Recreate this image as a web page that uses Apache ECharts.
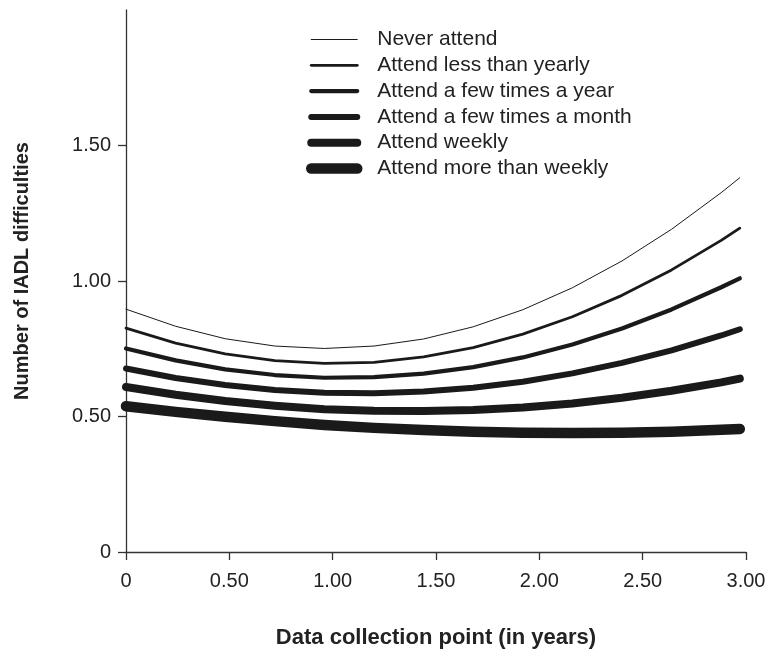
<!DOCTYPE html>
<html lang="en">
<head>
	<meta charset="UTF-8">
	<title>IADL difficulties by attendance</title>
	<style type="text/css">
		html, body { margin: 0; padding: 0; background: #fff; }
	</style>
</head>
<body>
     <div id="main" style="width:773px;height:665px;"></div>
</body>
</html>
<script type="text/javascript" src="https://cdn.jsdelivr.net/npm/echarts@6/dist/echarts.min.js"></script>
<script type="text/javascript">
    // data collection points (years)
    var years = [0, 0.24, 0.48, 0.72, 0.96, 1.2, 1.44, 1.68, 1.92, 2.16, 2.4, 2.64, 2.88, 2.97];
    var neverAttend = [0.896, 0.833, 0.787, 0.760, 0.751, 0.760, 0.786, 0.831, 0.894, 0.975, 1.074, 1.191, 1.326, 1.381];
    var lessThanYearly = [0.826, 0.771, 0.731, 0.706, 0.696, 0.700, 0.720, 0.754, 0.804, 0.868, 0.947, 1.041, 1.150, 1.195];
    var fewTimesYear = [0.751, 0.707, 0.674, 0.653, 0.643, 0.645, 0.658, 0.682, 0.718, 0.766, 0.825, 0.895, 0.977, 1.010];
    var fewTimesMonth = [0.677, 0.642, 0.616, 0.598, 0.588, 0.586, 0.592, 0.606, 0.628, 0.659, 0.698, 0.744, 0.799, 0.822];
    var weekly = [0.609, 0.580, 0.557, 0.540, 0.527, 0.521, 0.520, 0.524, 0.533, 0.548, 0.569, 0.595, 0.626, 0.640];
    var moreThanWeekly = [0.538, 0.517, 0.499, 0.483, 0.469, 0.458, 0.450, 0.444, 0.440, 0.439, 0.440, 0.444, 0.451, 0.454];
    var seriesNames = ["Never attend", "Attend less than yearly", "Attend a few times a year",
        "Attend a few times a month", "Attend weekly", "Attend more than weekly"];
    var xTicks = [0, 0.5, 1.0, 1.5, 2.0, 2.5, 3.0];
    var yTicks = [0, 0.5, 1.0, 1.5];

    drawChart();
    function drawChart() {
        var font = "'Liberation Sans', Arial, Helvetica, sans-serif";
        var ink = "#1a1a1a";
        var widths = [1, 2.8, 4.2, 6, 8, 10.5];
        var allValues = [neverAttend, lessThanYearly, fewTimesYear, fewTimesMonth, weekly, moreThanWeekly];
        var myChart = echarts.init(document.getElementById('main'));

        function tickText(v) {
            return v === 0 ? "0" : v.toFixed(2);
        }

        var series = [];
        var legendData = [];
        for (var i = 0; i < seriesNames.length; i++) {
            var pts = [];
            for (var j = 0; j < years.length; j++) {
                pts.push([years[j], allValues[i][j]]);
            }
            series.push({
                name: seriesNames[i],
                type: 'line',
                data: pts,
                symbol: 'none',
                smooth: false,
                lineStyle: { color: ink, width: widths[i], cap: 'round', join: 'round' },
                itemStyle: { color: ink }
            });
            // legend sample: the line only, no marker dot
            legendData.push({
                name: seriesNames[i],
                itemStyle: { color: 'rgba(0,0,0,0)', borderColor: 'rgba(0,0,0,0)', borderWidth: 0 },
                lineStyle: { color: ink, width: widths[i], cap: 'round' }
            });
        }

        var option = {
            animation: false,
            backgroundColor: '#fff',
            grid: { left: 126, right: 27, top: 10, bottom: 113 },
            legend: {
                orient: 'vertical',
                left: 306,
                top: 29,
                padding: 0,
                itemWidth: 46,
                itemHeight: 22,
                itemGap: 4.8,
                data: legendData,
                textStyle: { fontFamily: font, fontSize: 21, color: '#222', padding: [0, 0, 0, 15] }
            },
            xAxis: {
                type: 'value',
                min: 0,
                max: 3,
                interval: 0.5,
                name: 'Data collection point (in years)',
                nameLocation: 'middle',
                nameGap: 75,
                nameTextStyle: { fontFamily: font, fontSize: 22, fontWeight: 'bold', color: '#222' },
                splitLine: { show: false },
                axisLine: { lineStyle: { color: '#333', width: 1.3 } },
                axisTick: { length: 8, customValues: xTicks, lineStyle: { color: '#333', width: 1.3 } },
                axisLabel: {
                    customValues: xTicks,
                    margin: 19,
                    fontFamily: font, fontSize: 20, color: '#222',
                    formatter: tickText
                }
            },
            yAxis: {
                type: 'value',
                min: 0,
                max: 2,
                interval: 0.5,
                splitLine: { show: false },
                axisLine: { show: true, lineStyle: { color: '#333', width: 1.3 } },
                axisTick: { show: true, length: 8, customValues: yTicks, lineStyle: { color: '#333', width: 1.3 } },
                axisLabel: {
                    customValues: yTicks,
                    margin: 15,
                    fontFamily: font, fontSize: 20, color: '#222',
                    formatter: tickText
                }
            },
            graphic: [{
                type: 'text',
                x: 22,
                y: 271,
                rotation: Math.PI / 2,
                style: {
                    text: 'Number of IADL difficulties',
                    fontFamily: font,
                    fontSize: 20,
                    fontWeight: 'bold',
                    fill: '#222',
                    align: 'center',
                    verticalAlign: 'middle'
                }
            }],
            series: series
        };
        myChart.setOption(option);
    }
</script>
